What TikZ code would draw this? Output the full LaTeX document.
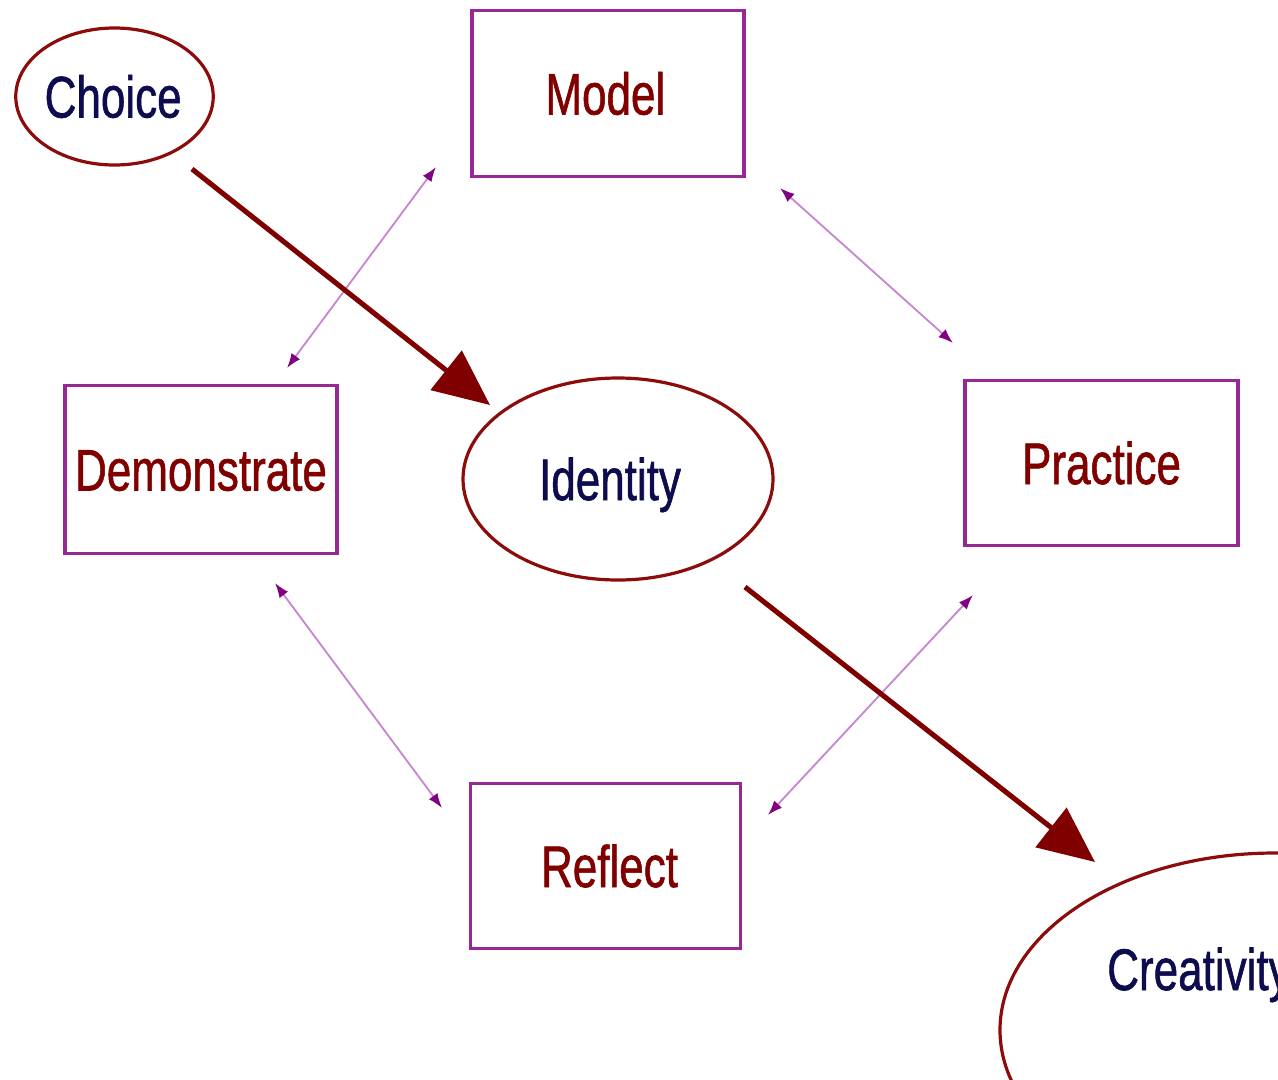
\documentclass[tikz,border=0pt]{standalone}
\usepackage{fontspec}
\usepackage{graphicx}
\setmainfont{Liberation Sans}
\newfontfamily\diagfont[FakeBold=1.2]{Liberation Sans}
\usetikzlibrary{arrows.meta,shapes.geometric}
\definecolor{txtred}{RGB}{128,0,0}
\definecolor{txtnavy}{RGB}{12,12,78}
\definecolor{boxpurple}{RGB}{150,40,150}
\definecolor{ellred}{RGB}{140,12,12}
\definecolor{thickred}{RGB}{128,0,0}
\definecolor{thinpurple}{RGB}{200,135,210}
\definecolor{headpurple}{RGB}{130,0,130}
\newcommand{\lbl}[1]{\scalebox{0.75}[1]{#1}}
\tikzset{
  lbltext/.style={font=\diagfont\fontsize{44}{50}\selectfont, text height=31.5pt, text depth=0pt, inner sep=0pt},
  stepbox/.style={draw=boxpurple, line width=2.4pt, rectangle, lbltext, text=txtred,
    minimum width=204pt, minimum height=125pt},
  oval/.style={draw=ellred, line width=2.4pt, ellipse, lbltext, text=txtnavy, inner sep=0pt},
  bigarrow/.style={draw=thickred, line width=3.8pt, -{Triangle[length=42pt,width=37pt]}},
  linkarrow/.style={draw=thinpurple, line width=1.4pt,
    {Latex[length=11pt,width=8pt,color=headpurple]}-{Latex[length=11pt,width=8pt,color=headpurple]}}
}
\begin{document}
\begin{tikzpicture}[x=0.75pt,y=-0.75pt]
\useasboundingbox (0,0) rectangle (1278,1079);
\fill[white] (0,0) rectangle (1278,1079);
\clip (0,0) rectangle (1278,1079);

% boxes
\node[stepbox] (model) at (608,93.5) {\lbl{Model}\hspace*{4pt}};
\node[stepbox, minimum height=126pt] (demonstrate) at (201,469.5) {\lbl{Demonstrate}};
\node[stepbox, minimum width=204.75pt, minimum height=123.75pt] (practice) at (1101.5,463) {\lbl{Practice}};
\node[stepbox, minimum width=202.5pt, minimum height=123.75pt] (reflect) at (605.5,866) {\hspace*{6pt}\lbl{Reflect}};

% ovals
\node[oval, minimum width=147.75pt, minimum height=102.75pt] (choice) at (114.5,96.5) {\lbl{Choice}\hspace*{2pt}};
\node[oval, minimum width=232.5pt, minimum height=151.5pt] (identity) at (618,479) {\lbl{Identity}\hspace*{12pt}};
\node[oval, minimum width=412.5pt, minimum height=265.5pt] (creativity) at (1275,1030) {};
\node[lbltext, text=txtnavy, anchor=base west] (creativitytext) at (1107,990) {\lbl{Creativity}};

% thin double-headed links
\coordinate (l1a) at (287,368); \coordinate (l1b) at (436,167);
\coordinate (l2a) at (780,188); \coordinate (l2b) at (953,343);
\coordinate (l3a) at (275,583); \coordinate (l3b) at (442,808);
\coordinate (l4a) at (973,595); \coordinate (l4b) at (768,815);
\draw[linkarrow] (l1a) -- (l1b);
\draw[linkarrow] (l2a) -- (l2b);
\draw[linkarrow] (l3a) -- (l3b);
\draw[linkarrow] (l4a) -- (l4b);

% thick arrows
\coordinate (t1a) at (192,169); \coordinate (t1b) at (490,405);
\coordinate (t2a) at (745,587); \coordinate (t2b) at (1095,862);
\draw[bigarrow] (t1a) -- (t1b);
\draw[bigarrow] (t2a) -- (t2b);
\end{tikzpicture}
\end{document}
